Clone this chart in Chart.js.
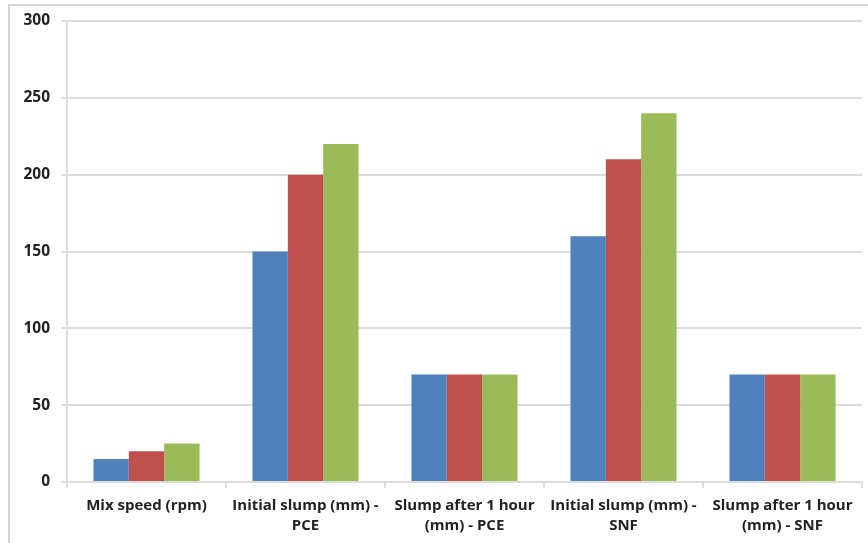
<!DOCTYPE html>
<html>
<head>
<meta charset="utf-8">
<script src="https://cdn.jsdelivr.net/npm/chart.js@4"></script>
<style>
  html, body { margin: 0; padding: 0; background: #fff; }
  #wrap { position: relative; width: 868px; height: 543px; overflow: hidden; }
  #frame { position: absolute; left: 8px; top: 4px; width: 900px; height: 600px;
           border-top: 2px solid #d4d4d4; border-left: 2px solid #d4d4d4; }
  canvas { position: absolute; left: 0; top: 0; }
</style>
</head>
<body>
<div id="wrap">
  <div id="frame"></div>
  <canvas id="c" width="868" height="543"></canvas>
</div>
<script>
// Mix parameters and slump measurements
const categories = [
  'Mix speed (rpm)',
  ['Initial slump (mm) -', 'PCE'],
  ['Slump after 1 hour', '(mm) - PCE'],
  ['Initial slump (mm) -', 'SNF'],
  ['Slump after 1 hour', '(mm) - SNF']
];
const series1 = [15, 150, 70, 160, 70];
const series2 = [20, 200, 70, 210, 70];
const series3 = [25, 220, 70, 240, 70];
const yTicks = [0, 50, 100, 150, 200, 250, 300];

const colors = ['#4F81BD', '#C0504D', '#9BBB59'];
const gridColor = '#dcdcdc';
const xFont = { family: 'Open Sans', size: 15, weight: 'bold', lineHeight: 1.3 };
const yFont = { family: 'Open Sans', size: 15.5, weight: 'bold' };

new Chart(document.getElementById('c'), {
  type: 'bar',
  data: {
    labels: categories,
    datasets: [series1, series2, series3].map((d, i) => ({
      label: 'Series ' + (i + 1),
      data: d,
      backgroundColor: colors[i],
      borderWidth: 0,
      categoryPercentage: 0.667,
      barPercentage: 1.0
    }))
  },
  options: {
    responsive: false,
    animation: false,
    devicePixelRatio: 1,
    layout: { padding: { top: 21, right: 6, bottom: 0, left: 0 } },
    plugins: { legend: { display: false }, tooltip: { enabled: false } },
    scales: {
      x: {
        afterFit: s => { s.height = 61; },
        grid: { drawOnChartArea: false, drawTicks: true, tickLength: 6, color: gridColor, lineWidth: 2 },
        border: { color: gridColor, width: 2 },
        ticks: { color: '#222', font: xFont, padding: 8, maxRotation: 0, autoSkip: false }
      },
      y: {
        min: 0, max: 300,
        afterFit: s => { s.width = 67; },
        afterBuildTicks: s => { s.ticks = yTicks.map(v => ({ value: v })); },
        grid: { color: gridColor, lineWidth: 2, tickLength: 6 },
        border: { color: gridColor, width: 2 },
        ticks: { color: '#222', font: yFont, padding: 11 }
      }
    }
  }
});
</script>
</body>
</html>
